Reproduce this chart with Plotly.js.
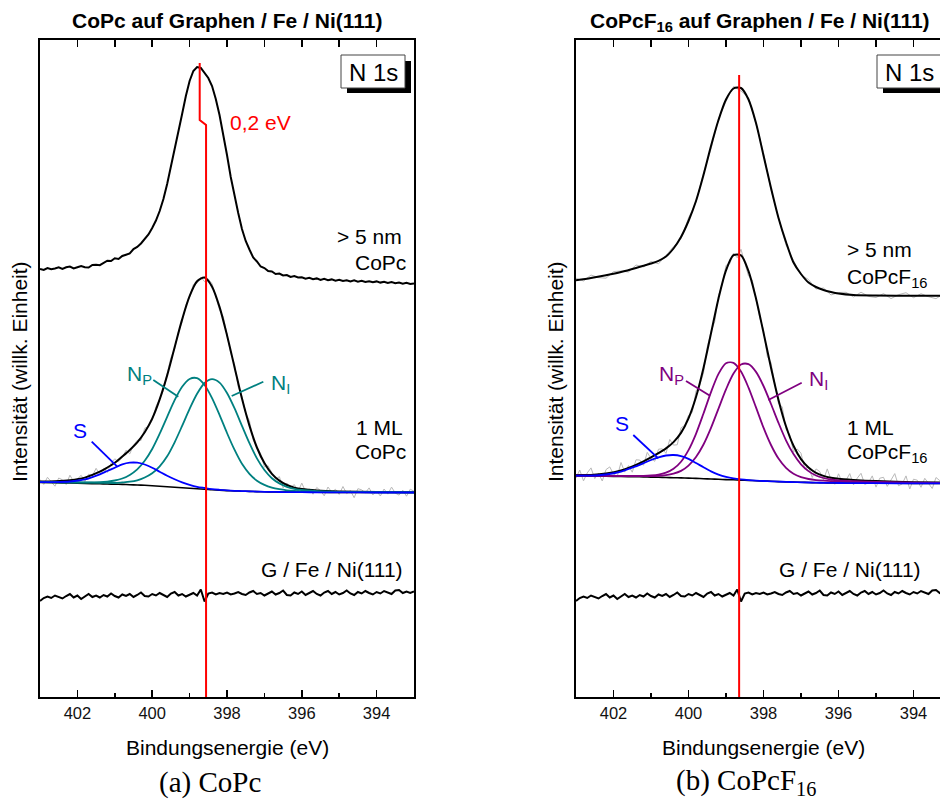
<!DOCTYPE html>
<html><head><meta charset="utf-8">
<script src="https://cdn.plot.ly/plotly-3.0.1.min.js"></script>
<style>html,body{margin:0;padding:0;overflow:hidden;background:#fff;width:940px;height:805px}#chart{width:960px;height:805px}</style>
</head><body><div id="chart"></div>
<script>
// ---------- energy grids (eV) ----------
const E_FINE = [403.0,402.9,402.8,402.7,402.6,402.5,402.4,402.3,402.2,402.1,402.0,401.9,401.8,401.7,401.6,401.5,401.4,401.3,401.2,401.1,401.0,400.9,400.8,400.7,400.6,400.5,400.4,400.3,400.2,400.1,400.0,399.9,399.8,399.7,399.6,399.5,399.4,399.3,399.2,399.1,399.0,398.9,398.8,398.7,398.6,398.5,398.4,398.3,398.2,398.1,398.0,397.9,397.8,397.7,397.6,397.5,397.4,397.3,397.2,397.1,397.0,396.9,396.8,396.7,396.6,396.5,396.4,396.3,396.2,396.1,396.0,395.9,395.8,395.7,395.6,395.5,395.4,395.3,395.2,395.1,395.0,394.9,394.8,394.7,394.6,394.5,394.4,394.3,394.2,394.1,394.0,393.9,393.8,393.7,393.6,393.5,393.4,393.3,393.2,393.1,393.0];
const E_HALF = [403.0,402.8,402.6,402.4,402.2,402.0,401.8,401.6,401.4,401.2,401.0,400.8,400.6,400.4,400.2,400.0,399.8,399.6,399.4,399.2,399.0,398.8,398.6,398.4,398.2,398.0,397.8,397.6,397.4,397.2,397.0,396.8,396.6,396.4,396.2,396.0,395.8,395.6,395.4,395.2,395.0,394.8,394.6,394.4,394.2,394.0,393.8,393.6,393.4,393.2,393.0];
const E_FIT = [403.0,402.6,402.2,401.8,401.4,401.2,401.0,400.8,400.6,400.4,400.2,400.0,399.8,399.6,399.4,399.2,399.0,398.8,398.6,398.4,398.2,398.0,397.8,397.6,397.4,397.2,397.0,396.8,396.6,396.4,396.2,396.0,395.6,395.0,394.0,393.0];

// ---------- substrate G / Fe / Ni(111) (same in both panels) ----------
const GFE = [96,99,100.5,99,101.5,100,98.5,101,103,99.5,101.5,98,100.5,103,100,101.5,99.5,102,100.5,103.5,101,99.5,102.5,101,103,100,102,104.5,101,100.5,103,101.5,104,102,100,103.5,105,101.5,103,100.5,102.5,104,101.5,107.5,95.5,103.5,104.5,102.5,104,103,104.5,102.5,103.5,105,103,102,104.5,106,103,104,101.5,103.5,105.5,102.5,104,106.5,102,101.5,104.5,103,105.5,102,104,106,103,101.5,104.5,106,103,105,102.5,104,106.5,103.5,102,105,103.5,106,104,102.5,105,103.5,106,104.5,103,106.5,107,104,105.5,104,105.5];

// ---------- (a) CoPc ----------
const A_TOP = [428,427,429,427.8,428.5,429.7,428,429.7,430.4,428.6,429.8,431,429.7,429.5,432,432.3,431.8,434,436.3,436,438.7,438,441,442.3,443.5,448,450,453.5,457.5,462.5,469,476.5,486,498,513,530,546.5,563,583,601,616,626,630,629,624.5,619,611,598,582,563,542,520,501,484,468,456,447.5,439.5,435.5,430.5,429,426,425.5,423,423.5,421.5,422,420,421,419.5,419.8,418.3,419.2,417.8,418.6,417,418.2,416.8,417.6,416.3,417.3,416,416.8,415.5,416.6,415.3,416.2,415,415.8,414.8,415.6,414.4,415.2,414,414.9,413.8,414.5,413.3,414.2,413,413.6];
const A_RAW = [217.5,212.6,219.7,214.7,210.8,219.0,217.2,212.5,221.8,215.4,218.0,221.7,215.4,222.8,221.2,228.7,222.3,228.4,224.5,233.8,238.2,235.3,239.5,246.8,243.1,251.8,256.7,256.5,268.8,270.3,276.4,290.5,297.6,306.3,323.6,339.5,347.7,365.0,374.6,392.0,399.9,412.5,413.8,419.9,415.4,418.0,413.3,400.3,387.1,380.5,362.8,344.0,333.1,310.0,300.5,283.5,276.4,257.0,249.5,243.3,229.9,231.2,224.1,217.5,220.4,209.0,214.0,209.6,212.4,205.6,213.9,205.5,208.2,202.8,209.5,206.3,201.2,210.0,204.9,207.7,202.6,210.5,203.5,206.4,199.3,208.3,207.2,204.2,209.1,202.1,206.0,201.0,208.0,202.9,209.9,203.9,201.9,206.8,200.8,207.8,205.8];
const A_BKG = [214.5,214.3,214.0,213.6,213.2,213.0,212.8,212.6,212.3,212.0,211.7,211.3,210.8,210.3,209.8,209.2,208.7,208.2,207.8,207.2,206.8,206.4,206.1,205.8,205.6,205.4,205.2,205.1,205.0,204.9,204.9,204.8,204.7,204.6,204.5,204.5];
const A_S   = [214.8,214.9,215.5,217.6,222.7,226.0,229.3,232.6,234.3,234.3,232.5,229.3,225.3,221.3,217.8,214.7,212.2,210.2,209.0,207.9,207.2,206.6,206.2,205.9,205.7,205.4,205.2,205.1,205.0,204.9,204.9,204.8,204.7,204.6,204.5,204.5];
const A_NP  = [214.9,214.8,214.7,214.6,214.8,215.4,216.5,218.5,222.1,227.7,236.2,248.0,263.3,280.2,296.8,310.2,318.0,318.8,312.0,298.9,282.1,264.0,247.3,233.2,223.2,216.3,212.1,209.4,207.8,206.7,206.1,205.7,205.3,205.0,204.7,204.6];
const A_NI  = [214.8,214.7,214.6,214.4,214.2,214.1,214.0,214.6,215.3,216.7,219.5,223.7,230.6,240.7,254.7,271.1,288.1,303.2,314.0,317.9,314.4,304.0,288.8,271.1,253.8,238.6,227.0,218.8,213.6,210.2,208.2,207.0,205.9,205.2,204.8,204.7];
const A_ENV = [215.5,215.8,216.8,219.4,225.3,229.5,234.2,240.5,247.1,254.7,264.8,278.4,297.6,321.6,349.7,377.6,400.9,415.8,419.4,410.3,390.1,361.8,330.1,298.5,271.4,249.5,233.9,223.1,216.4,212.0,209.4,207.9,206.5,205.6,205.0,204.8];
const A_RED_E = [398.73,398.73,398.56,398.56];
const A_RED_V = [634,577,572,0];

// ---------- (b) CoPcF16 ----------
const B_TOP = [416.8,419,421.8,425,429,431.2,433.5,436.2,440.5,448.5,460,476,496,522,551,577,597.5,608.5,609,597.5,574,541.5,509,479,455,434.5,423,414.5,410,407,405,403.5,402,401.5,401.3,401.3];
const B_TOP_RAW = [418.8,416,422,419.4,418.8,425.4,426,425,432,430.2,435.5,433.2,441.5,450.5,458,479,495,524,548,578,595.5,610.5,606,599.5,573,544.5,507,480,452,436.5,422,417.5,408,409,402,404.5,404.7,400,404.8,400.6,399.5,403.4,398.4,402.3,404.3,399.3,403.3,400.3,398.3,403.3,402.3];
const B_RAW = [219.0,227.0,216.1,224.1,229.1,218.4,223.7,216.0,227.4,230.1,222.9,220.7,234.5,224.9,231.4,224.8,237.2,237.0,231.7,244.6,238.6,235.7,247.8,248.2,243.6,257.6,251.9,252.2,269.1,271.8,281.6,284.5,306.0,311.8,324.1,350.0,365.6,375.3,401.5,412.5,431.6,433.2,443.8,439.2,447.7,433.8,420.9,417.2,399.5,379.0,367.4,340.7,334.3,311.7,293.1,290.2,267.7,262.3,245.2,248.0,243.8,228.2,230.4,219.5,228.1,225.4,217.1,228.1,217.3,212.7,223.2,214.9,216.6,223.4,212.1,218.9,223.7,212.5,214.3,221.1,209.9,218.8,219.7,210.6,216.5,223.4,211.3,213.1,221.1,208.0,217.8,216.8,209.7,218.7,213.6,208.5,219.5,216.4,211.3,220.3,212.2];
const B_BKG = [221.0,220.9,220.7,220.5,220.3,220.1,219.9,219.7,219.5,219.3,219.1,218.9,218.6,218.3,218.0,217.7,217.4,217.2,216.9,216.6,216.3,216.0,215.7,215.4,215.1,214.9,214.7,214.5,214.3,214.2,214.1,214.0,213.9,213.8,213.6,213.5];
const B_S   = [221.4,221.4,222.5,225.4,230.7,233.8,237.0,239.7,241.5,242.0,240.9,238.1,234.0,229.7,225.6,222.4,220.1,218.6,217.6,216.9,216.4,216.0,215.7,215.4,215.1,214.9,214.7,214.5,214.3,214.2,214.1,214.0,213.9,213.8,213.6,213.5];
const B_NP  = [221.3,221.3,221.2,221.1,221.2,221.2,221.5,222.3,224.3,228.2,235.3,246.9,263.2,283.5,304.9,323.1,333.7,334.2,325.4,309.4,289.6,269.4,252.0,238.4,229.1,223.2,219.8,218.0,216.9,216.3,215.9,215.6,215.2,214.7,214.1,213.8];
const B_NI  = [221.3,221.2,221.1,221.0,220.9,220.9,220.9,221.2,221.8,223.3,226.1,231.4,240.0,252.5,269.1,288.4,307.6,323.4,332.5,332.8,325.1,311.0,293.0,274.1,256.7,242.9,232.7,225.9,221.5,219.0,217.5,216.6,215.8,215.0,214.3,213.9];
const B_ENV = [222.0,222.1,223.4,226.5,232.2,235.7,239.6,243.8,248.6,254.9,264.1,278.6,300.0,329.1,363.6,398.5,426.6,441.8,441.7,425.9,398.5,364.4,329.3,297.1,270.7,251.2,237.8,229.4,224.1,221.1,219.3,218.2,217.1,215.9,214.8,214.2];
const B_RED_E = [398.65,398.65];
const B_RED_V = [622,0];

// ---------- tick labels ----------
const MAJOR_TICKS = [402,400,398,396,394];
const MINOR_TICKS = [403,401,399,397,395,393];
const ALL_TICKS = [403,402,401,400,399,398,397,396,395,394,393];

// ---------- styling ----------
const SANS = 'Liberation Sans, Arial, sans-serif';
const TEAL = '#008080', PURPLE = '#800080', BLUE = '#0000ff', RED = '#ff0000', GREY = '#b9b9b9';

function ln(x, y, color, width, xa, ya, shape) {
  return {x: x, y: y, xaxis: xa, yaxis: ya, type: 'scatter', mode: 'lines',
    line: {color: color, width: width, shape: shape || 'linear', smoothing: 0.8},
    hoverinfo: 'skip', showlegend: false};
}

const traces = [
  // panel a
  ln(E_FINE, A_RAW, GREY, 1, 'x', 'y'),
  ln(E_FINE, A_TOP, '#000', 2, 'x', 'y'),
  ln(E_FINE, GFE, '#000', 2, 'x', 'y'),
  ln(E_FIT, A_BKG, '#000', 1.6, 'x', 'y', 'spline'),
  ln(E_FIT, A_ENV, '#000', 2, 'x', 'y', 'spline'),
  ln(E_FIT, A_NP, TEAL, 1.8, 'x', 'y', 'spline'),
  ln(E_FIT, A_NI, TEAL, 1.8, 'x', 'y', 'spline'),
  ln(E_FIT, A_S, BLUE, 1.8, 'x', 'y', 'spline'),
  ln(A_RED_E, A_RED_V, RED, 2, 'x', 'y'),
  // panel b
  ln(E_FINE, B_RAW, GREY, 1, 'x2', 'y2'),
  ln(E_HALF, B_TOP_RAW, GREY, 1, 'x2', 'y2'),
  ln(E_FIT, B_TOP, '#000', 2, 'x2', 'y2', 'spline'),
  ln(E_FINE, GFE, '#000', 2, 'x2', 'y2'),
  ln(E_FIT, B_BKG, '#000', 1.6, 'x2', 'y2', 'spline'),
  ln(E_FIT, B_ENV, '#000', 2, 'x2', 'y2', 'spline'),
  ln(E_FIT, B_NP, PURPLE, 1.8, 'x2', 'y2', 'spline'),
  ln(E_FIT, B_NI, PURPLE, 1.8, 'x2', 'y2', 'spline'),
  ln(E_FIT, B_S, BLUE, 1.8, 'x2', 'y2', 'spline'),
  ln(B_RED_E, B_RED_V, RED, 2, 'x2', 'y2'),
  // anchors for the top tick axes
  {x: [398], y: [-500], xaxis: 'x3', yaxis: 'y', mode: 'markers', marker: {opacity: 0}, hoverinfo: 'skip', showlegend: false},
  {x: [398], y: [-500], xaxis: 'x4', yaxis: 'y2', mode: 'markers', marker: {opacity: 0}, hoverinfo: 'skip', showlegend: false}
];

// page pixel -> paper coordinates (plot area: x 40..951, y 40..697)
const L = 40, T = 40, PW = 911, PH = 657;
function px(x) { return (x - L) / PW; }
function py(y) { return (T + PH - y) / PH; }

function ann(text, x, y, o) {
  o = o || {};
  return Object.assign({text: text, x: px(x), y: py(y), xref: 'paper', yref: 'paper',
    showarrow: false, xanchor: 'center', yanchor: 'middle',
    font: {family: SANS, size: 21, color: '#000'}}, o);
}

function baseX(domain, anchor) {
  return {domain: domain, anchor: anchor, range: [403, 393], autorange: false,
    showline: true, linecolor: '#000', linewidth: 2, mirror: true,
    ticks: 'inside', ticklen: 7, tickwidth: 1.5, tickcolor: '#000',
    tickvals: MAJOR_TICKS, ticktext: MAJOR_TICKS.map(String),
    minor: {tickvals: MINOR_TICKS, ticks: 'inside', ticklen: 4, tickwidth: 1.5, tickcolor: '#000', showgrid: false},
    tickfont: {family: SANS, size: 16.5, color: '#111'},
    showgrid: false, zeroline: false, fixedrange: true};
}
function topX(over, anchor, domain) {
  return {overlaying: over, anchor: anchor, side: 'top', domain: domain, range: [403, 393], autorange: false,
    tickvals: ALL_TICKS, ticks: 'inside', ticklen: 7, tickwidth: 1.5, tickcolor: '#000',
    showticklabels: false, showline: false, showgrid: false, zeroline: false};
}
function baseY(anchor) {
  return {domain: [0, 1], anchor: anchor, range: [0, 657], autorange: false,
    showline: true, linecolor: '#000', linewidth: 2, mirror: true,
    ticks: '', showticklabels: false, showgrid: false, zeroline: false, fixedrange: true};
}

const D1 = [0, 374 / 911], D2 = [536 / 911, 1];

function rectPx(x0, y0, x1, y1, fill, lineColor, lw) {
  return {type: 'rect', xref: 'paper', yref: 'paper', x0: px(x0), x1: px(x1), y0: py(y1), y1: py(y0),
    fillcolor: fill, line: {color: lineColor, width: lw}, layer: 'above'};
}
function linePx(x0, y0, x1, y1, color) {
  return {type: 'line', xref: 'paper', yref: 'paper', x0: px(x0), x1: px(x1), y0: py(y0), y1: py(y1),
    line: {color: color, width: 1.8}, layer: 'above'};
}

const shapes = [
  // N 1s boxes with shadow
  rectPx(347, 61, 411, 93, '#000', '#000', 0),
  rectPx(341, 55, 405, 88, '#fff', '#444', 1),
  rectPx(883, 61, 947, 93, '#000', '#000', 0),
  rectPx(877, 55, 941, 88, '#fff', '#444', 1),
  // label connectors
  linePx(153.3, 380, 178.3, 396.7, TEAL),
  linePx(263.3, 381.7, 231.7, 396, TEAL),
  linePx(91.7, 441.7, 117.3, 466.7, BLUE),
  linePx(686, 381, 710, 395.7, PURPLE),
  linePx(801.7, 382.7, 768.3, 400, PURPLE),
  linePx(633.3, 435, 658.3, 458.3, BLUE)
];

const TITLE_FONT = {family: SANS, size: 21, color: '#000'};
const annotations = [
  ann('<b>CoPc auf Graphen / Fe / Ni(111)</b>', 227, 20, {font: TITLE_FONT}),
  ann('<b>CoPcF<sub>16</sub> auf Graphen / Fe / Ni(111)</b>', 760, 22, {font: TITLE_FONT}),
  ann('N 1s', 373, 72, {font: {family: SANS, size: 24, color: '#000'}}),
  ann('N 1s', 909, 72, {font: {family: SANS, size: 24, color: '#000'}}),
  // panel a labels
  ann('0,2 eV', 228, 122, {xanchor: 'left', font: {family: SANS, size: 21, color: RED}}),
  ann('&gt; 5 nm', 335, 236, {xanchor: 'left'}),
  ann('CoPc', 353, 262, {xanchor: 'left'}),
  ann('1 ML', 354, 427, {xanchor: 'left'}),
  ann('CoPc', 353, 451, {xanchor: 'left'}),
  ann('G / Fe / Ni(111)', 259, 569, {xanchor: 'left'}),
  ann('N<sub>P</sub>', 125, 375, {xanchor: 'left', font: {family: SANS, size: 21, color: TEAL}}),
  ann('N<sub>I</sub>', 269, 384, {xanchor: 'left', font: {family: SANS, size: 21, color: TEAL}}),
  ann('S', 80, 430, {font: {family: SANS, size: 21, color: BLUE}}),
  // panel b labels
  ann('&gt; 5 nm', 845, 249, {xanchor: 'left'}),
  ann('CoPcF<sub>16</sub>', 845, 278, {xanchor: 'left'}),
  ann('1 ML', 845, 427, {xanchor: 'left'}),
  ann('CoPcF<sub>16</sub>', 845, 453, {xanchor: 'left'}),
  ann('G / Fe / Ni(111)', 777, 569, {xanchor: 'left'}),
  ann('N<sub>P</sub>', 657, 375, {xanchor: 'left', font: {family: SANS, size: 21, color: PURPLE}}),
  ann('N<sub>I</sub>', 807, 380, {xanchor: 'left', font: {family: SANS, size: 21, color: PURPLE}}),
  ann('S', 622, 423, {font: {family: SANS, size: 21, color: BLUE}}),
  // axis titles
  ann('Bindungsenergie (eV)', 227, 747),
  ann('Bindungsenergie (eV)', 763, 747),
  ann('Intensität (willk. Einheit)', 19, 372, {textangle: -90}),
  ann('Intensität (willk. Einheit)', 555, 372, {textangle: -90}),
  // captions
  ann('(a) CoPc', 210, 782, {font: {family: 'Liberation Serif, Times New Roman, serif', size: 29, color: '#000'}}),
  ann('(b) CoPcF<sub>16</sub>', 746, 782, {font: {family: 'Liberation Serif, Times New Roman, serif', size: 29, color: '#000'}})
];

const layout = {
  width: 960, height: 805,
  margin: {l: L, r: 960 - L - PW, t: T, b: 805 - T - PH, pad: 0},
  paper_bgcolor: '#fff', plot_bgcolor: '#fff', showlegend: false,
  xaxis: baseX(D1, 'y'), yaxis: baseY('x'),
  xaxis2: baseX(D2, 'y2'), yaxis2: baseY('x2'),
  xaxis3: topX('x', 'y', D1), xaxis4: topX('x2', 'y2', D2),
  shapes: shapes, annotations: annotations
};

Plotly.newPlot('chart', traces, layout, {staticPlot: true, displayModeBar: false});
</script>
</body></html>
